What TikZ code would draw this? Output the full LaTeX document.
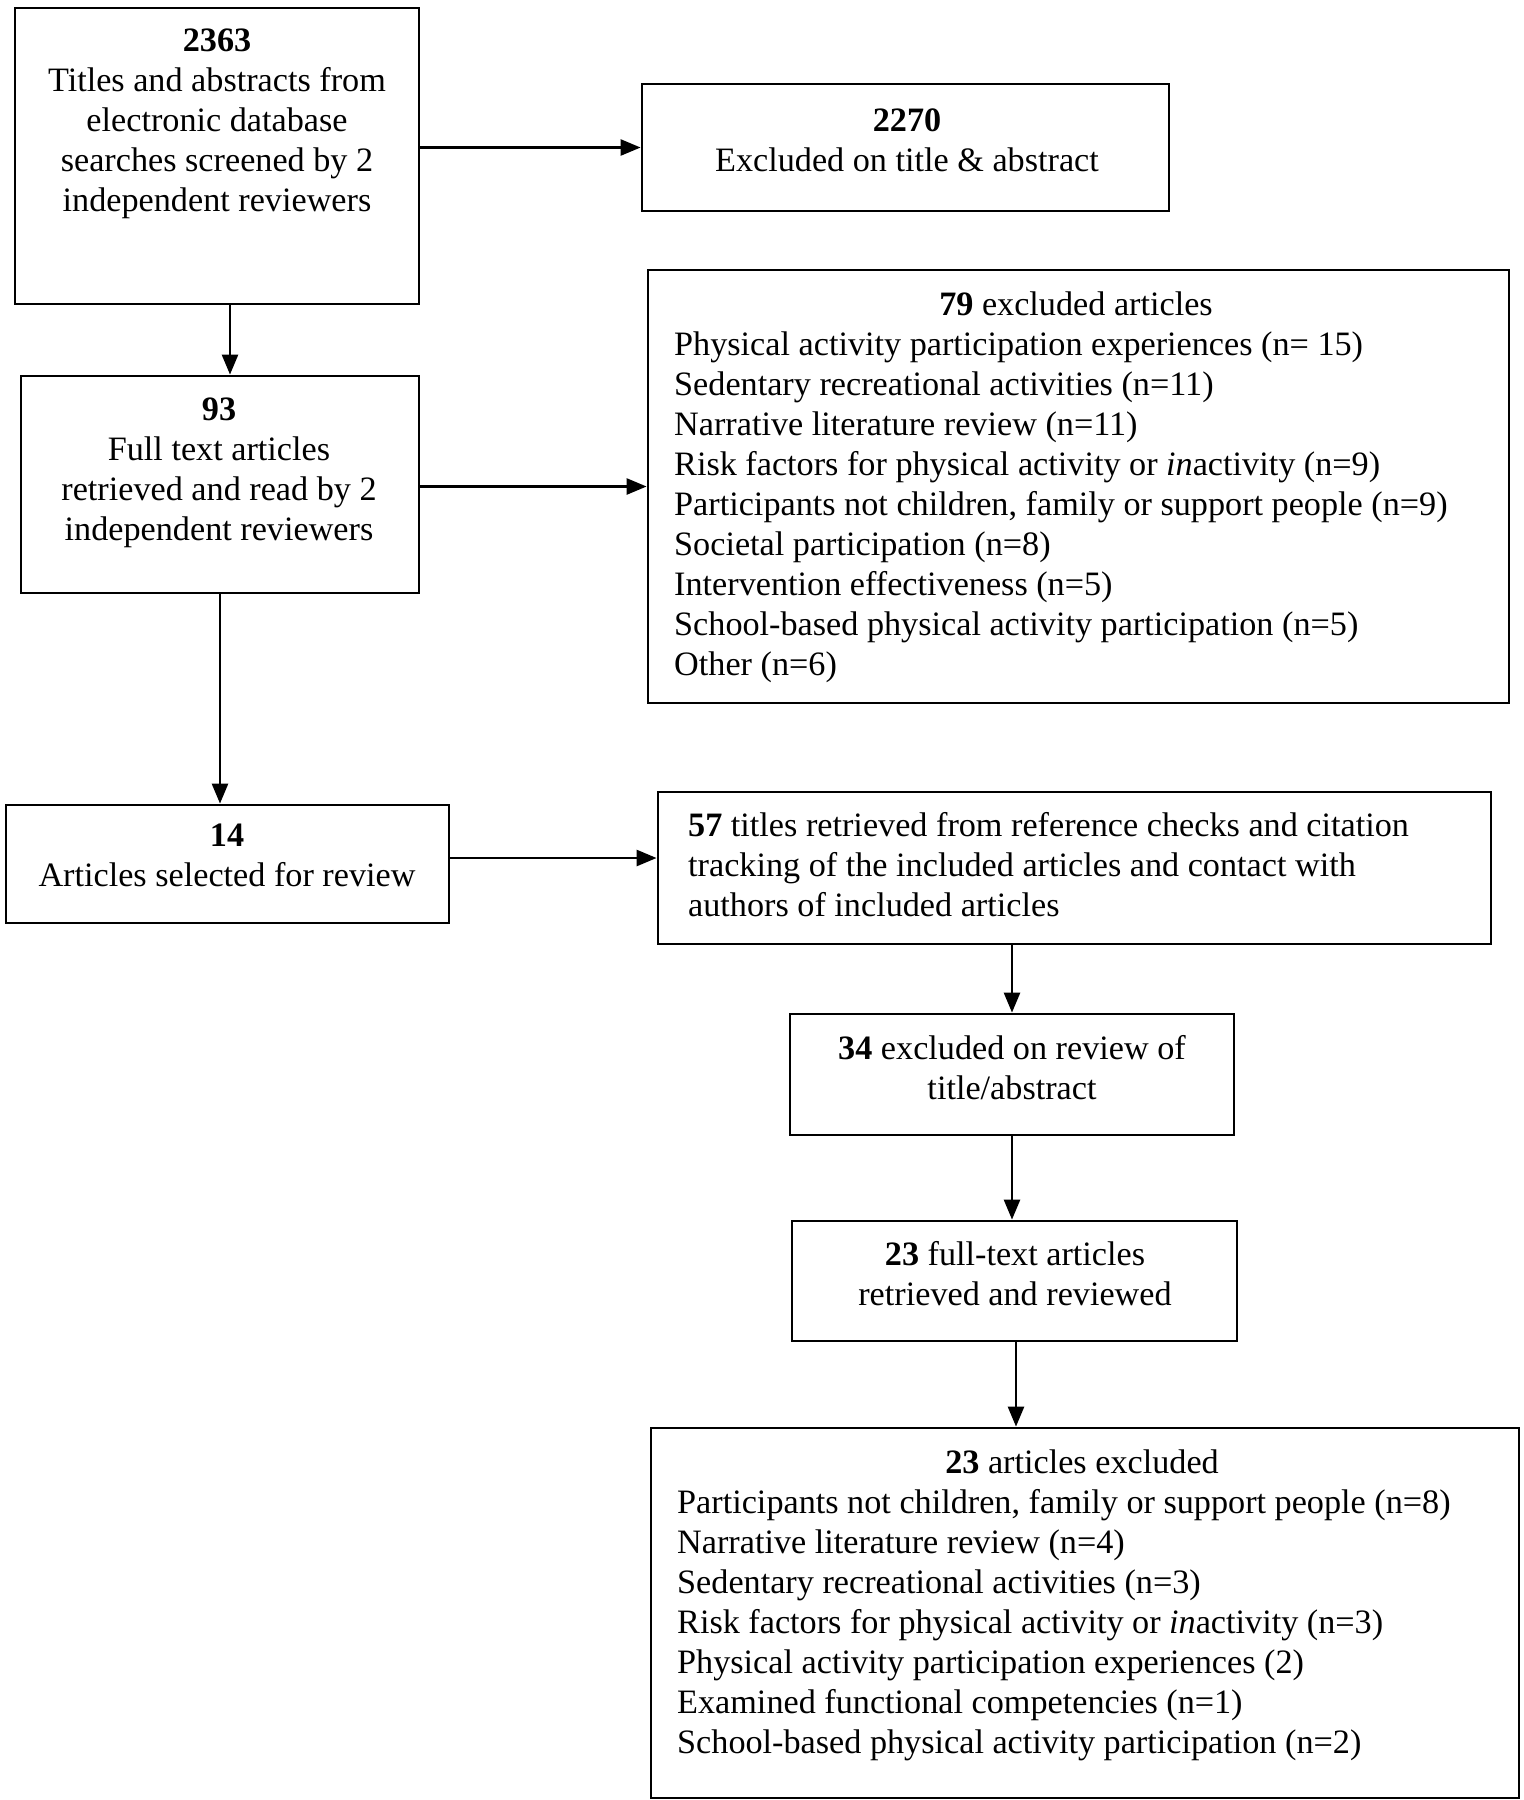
\documentclass[tikz,border=0pt]{standalone}
\usepackage{fontspec}
\setmainfont{Liberation Serif}
\usetikzlibrary{arrows.meta,calc}
\begin{document}
\begin{tikzpicture}[x=1pt,y=-1pt,
  box/.style={draw=black,line width=2.8pt,inner sep=0pt},
  txt/.style={font=\fontsize{34.2}{40}\selectfont,inner sep=0pt},
  arr/.style={line width=2.6pt,-{Triangle[length=20pt,width=16pt]}}]
\useasboundingbox (0,0) rectangle (1524,1800);
\fill[white] (0,0) rectangle (1524,1800);
% boxes
\node[box,minimum width=404pt,minimum height=296pt] (b1) at (217,156) {};
\node[box,minimum width=527pt,minimum height=127pt] (b2) at (905.5,147.5) {};
\node[box,minimum width=861pt,minimum height=433pt] (b4) at (1078.5,486.5) {};
\node[box,minimum width=398pt,minimum height=217pt] (b3) at (220,484.5) {};
\node[box,minimum width=443pt,minimum height=118pt] (b5) at (227.5,864) {};
\node[box,minimum width=833pt,minimum height=152pt] (b6) at (1074.5,868) {};
\node[box,minimum width=444pt,minimum height=121pt] (b7) at (1012,1074.5) {};
\node[box,minimum width=445pt,minimum height=120pt] (b8) at (1014.5,1281) {};
\node[box,minimum width=868pt,minimum height=370pt] (b9) at (1085,1613) {};
% texts (anchor = baseline of the last line)
\node[txt,align=center,anchor=base] (t1) at (217,211) {\textbf{2363}\\Titles and abstracts from\\electronic database\\searches screened by 2\\independent reviewers};
\node[txt,align=center,anchor=base] (t2) at (907,171) {\textbf{2270}\\Excluded on title \& abstract};
\node[txt,align=center,anchor=base] (t3) at (219,540) {\textbf{93}\\Full text articles\\retrieved and read by 2\\independent reviewers};
\node[txt,anchor=base] (t4h) at (1076,315) {\textbf{79} excluded articles};
\node[txt,align=left,anchor=base west] (t4) at (674,675) {Physical activity participation experiences (n= 15)\\Sedentary recreational activities (n=11)\\Narrative literature review (n=11)\\Risk factors for physical activity or \textit{in}activity (n=9)\\Participants not children, family or support people (n=9)\\Societal participation (n=8)\\Intervention effectiveness (n=5)\\School-based physical activity participation (n=5)\\Other (n=6)};
\node[txt,align=center,anchor=base] (t5) at (227,886) {\textbf{14}\\Articles selected for review};
\node[txt,align=left,anchor=base west] (t6) at (688,916) {\textbf{57} titles retrieved from reference checks and citation\\tracking of the included articles and contact with\\authors of included articles};
\node[txt,align=center,anchor=base] (t7) at (1012,1099) {\textbf{34} excluded on review of\\title/abstract};
\node[txt,align=center,anchor=base] (t8) at (1015,1305) {\textbf{23} full-text articles\\retrieved and reviewed};
\node[txt,anchor=base] (t9h) at (1082,1473) {\textbf{23} articles excluded};
\node[txt,align=left,anchor=base west] (t9) at (677,1753) {Participants not children, family or support people (n=8)\\Narrative literature review (n=4)\\Sedentary recreational activities (n=3)\\Risk factors for physical activity or \textit{in}activity (n=3)\\Physical activity participation experiences (2)\\Examined functional competencies (n=1)\\School-based physical activity participation (n=2)};
% arrows
\draw[arr] (b1.east |- b2.west) -- (b2.west);
\draw[arr] ([xshift=13pt]b1.south) -- ([xshift=13pt]b1.south |- b3.north);
\draw[arr] (b3.east |- b4.west) -- (b4.west);
\draw[arr] (b3.south) -- (b3.south |- b5.north);
\draw[arr] ([yshift=6pt]b5.east) -- ([yshift=6pt]b5.east -| b6.west);
\draw[arr] (b7.north |- b6.south) -- (b7.north);
\draw[arr] (b7.south) -- (b7.south |- b8.north);
\draw[arr] ([xshift=1.5pt]b8.south) -- ([xshift=1.5pt]b8.south |- b9.north);
\end{tikzpicture}
\end{document}
